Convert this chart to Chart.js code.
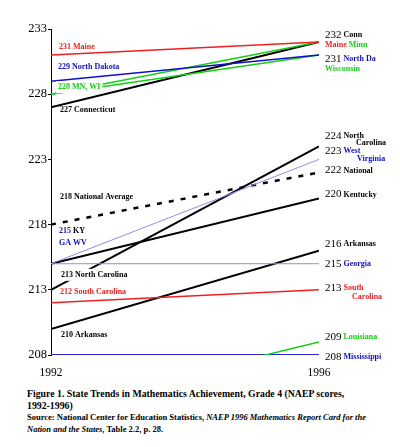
<!DOCTYPE html>
<html>
<head>
<meta charset="utf-8">
<script src="https://cdn.jsdelivr.net/npm/chart.js@4.4.0/dist/chart.umd.min.js"></script>
<style>
body { margin: 0; background: #fff; }
#wrap { position: relative; width: 400px; height: 380px; }
.caption { position: absolute; left: 27px; font-family: "Liberation Serif", "Times New Roman", serif; color: #000; font-weight: bold; white-space: nowrap; }
</style>
</head>
<body>
<div id="wrap"><canvas id="myChart"></canvas></div>
<div class="caption" style="top:388px;font-size:9.8px;line-height:12px;">Figure 1. State Trends in Mathematics Achievement, Grade 4 (NAEP scores,<br>1992-1996)</div>
<div class="caption" style="top:412px;font-size:8.5px;line-height:11.5px;">Source: National Center for Education Statistics, <i>NAEP 1996 Mathematics Report Card for the<br>Nation and the States</i>, Table 2.2, p. 28.</div>
<script>
// NAEP grade 4 math scores, 1992 and 1996
const years = [1992, 1996];
const yTicks = [208, 213, 218, 223, 228, 233];

const maine = [231, 232];
const northDakota = [229, 231];
const minnesota = [228, 232];
const wisconsin = [228, 231];
const connecticut = [227, 232];
const national = [218, 222];
const kentucky = [215, 220];
const westVirginia = [215, 223];
const georgia = [215, 215];
const northCarolina = [213, 224];
const southCarolina = [212, 213];
const arkansas = [210, 216];
const louisiana = [204, 209];
const mississippi = [208, 208];

const RED = '#f02020', BLUE = '#1010c8', GREEN = '#10d010', BLACK = '#000', LAV = '#8c8cf0';
const SERIF = '"Liberation Serif", "Times New Roman", serif';

const series = [
    { values: maine, color: RED, width: 1.5 },
    { values: northDakota, color: BLUE, width: 1.5 },
    { values: minnesota, color: GREEN, width: 1.5 },
    { values: wisconsin, color: GREEN, width: 1.5 },
    { values: connecticut, color: BLACK, width: 2 },
    { values: westVirginia, color: LAV, width: 1 },
    { values: georgia, color: LAV, width: 1 },
    { values: national, color: BLACK, width: 2.5, dash: [5, 7] },
    { values: kentucky, color: BLACK, width: 2 },
    { values: northCarolina, color: BLACK, width: 2 },
    { values: southCarolina, color: RED, width: 1.5 },
    { values: arkansas, color: BLACK, width: 2 },
    { values: louisiana, color: GREEN, width: 1.5 },
    { values: mississippi, color: '#2a2ad0', width: 2 },
];

// labels beside the 1992 end
const leftLabels = [
    { value: maine[0], dx: 8, dy: -8, parts: [[`${maine[0]} Maine`, RED]] },
    { value: northDakota[0], dx: 7, dy: -14, parts: [[`${northDakota[0]} North Dakota`, BLUE]] },
    { value: minnesota[0], dx: 7, dy: -7, mask: true, parts: [[`${minnesota[0]} MN, WI`, GREEN]] },
    { value: connecticut[0], dx: 9, dy: 3, parts: [[`${connecticut[0]} Connecticut`, BLACK]] },
    { value: national[0], dx: 9, dy: -28, parts: [[`${national[0]} National Average`, BLACK]] },
    { value: kentucky[0], dx: 8, dy: -33, parts: [[`${kentucky[0]} `, BLUE], ['KY', BLACK]] },
    { value: georgia[0], dx: 8, dy: -21, parts: [['GA WV', BLUE]] },
    { value: northCarolina[0], dx: 10, dy: -15, mask: true, parts: [[`${northCarolina[0]} North Carolina`, BLACK]] },
    { value: southCarolina[0], dx: 9, dy: -11, parts: [[`${southCarolina[0]} South Carolina`, RED]] },
    { value: arkansas[0], dx: 10, dy: 6, parts: [[`${arkansas[0]} Arkansas`, BLACK]] },
];

// labels beside the 1996 end; 'n' marks the score itself
const rightLabels = [
    { value: connecticut[1], dy: -7, parts: [[connecticut[1], 'n'], [' Conn', BLACK]] },
    { value: maine[1], dy: 3, parts: [['Maine ', RED], ['Minn', GREEN]] },
    { value: northDakota[1], dy: 4, parts: [[northDakota[1], 'n'], [' North Da', BLUE]] },
    { value: wisconsin[1], dy: 14, parts: [['Wisconsin', GREEN]] },
    { value: northCarolina[1], dy: -10, parts: [[northCarolina[1], 'n'], [' North', BLACK]] },
    { value: northCarolina[1], dy: -3, dx: 31, parts: [['Carolina', BLACK]] },
    { value: westVirginia[1], dy: -8, parts: [[westVirginia[1], 'n'], [' West', BLUE]] },
    { value: westVirginia[1], dy: 0, dx: 32, parts: [['Virginia', BLUE]] },
    { value: national[1], dy: -2, parts: [[national[1], 'n'], [' National', BLACK]] },
    { value: kentucky[1], dy: -4, parts: [[kentucky[1], 'n'], [' Kentucky', BLACK]] },
    { value: arkansas[1], dy: -7, parts: [[arkansas[1], 'n'], [' Arkansas', BLACK]] },
    { value: georgia[1], dy: 0, parts: [[georgia[1], 'n'], [' Georgia', BLUE]] },
    { value: southCarolina[1], dy: -2, parts: [[southCarolina[1], 'n'], [' South', RED]] },
    { value: southCarolina[1], dy: 7, dx: 27, parts: [['Carolina', RED]] },
    { value: louisiana[1], dy: -5, parts: [[louisiana[1], 'n'], [' Louisiana', GREEN]] },
    { value: mississippi[1], dy: 2, parts: [[mississippi[1], 'n'], [' Mississippi', BLUE]] },
];

const NAME_FONT = `bold 8px ${SERIF}`;
const NUM_FONT = `11px ${SERIF}`;

function drawParts(ctx, parts, x, y, mask) {
    let cx = x;
    if (mask) {
        let w = 0;
        parts.forEach(([t, c]) => {
            ctx.font = c === 'n' ? NUM_FONT : NAME_FONT;
            w += ctx.measureText(String(t)).width;
        });
        ctx.fillStyle = '#fff';
        ctx.fillRect(x - 2, y - 6, w + 4, 12);
    }
    parts.forEach(([t, c]) => {
        const s = String(t);
        ctx.font = c === 'n' ? NUM_FONT : NAME_FONT;
        ctx.fillStyle = c === 'n' ? BLACK : c;
        ctx.fillText(s, cx, y);
        cx += ctx.measureText(s).width;
    });
}

const stateLabels = {
    id: 'stateLabels',
    afterDatasetsDraw(chart) {
        const { ctx, scales: { x, y } } = chart;
        ctx.save();
        ctx.textBaseline = 'middle';
        ctx.textAlign = 'left';
        const x0 = x.getPixelForValue(years[0]);
        const x1 = x.getPixelForValue(years[1]);
        leftLabels.forEach(l => {
            drawParts(ctx, l.parts, x0 + l.dx, y.getPixelForValue(l.value) + l.dy, l.mask);
        });
        rightLabels.forEach(l => {
            drawParts(ctx, l.parts, x1 + 6 + (l.dx || 0), y.getPixelForValue(l.value) + l.dy, false);
        });
        ctx.restore();
    }
};

new Chart(document.getElementById('myChart'), {
    type: 'line',
    data: {
        datasets: series.map(s => ({
            data: years.map((yr, i) => ({ x: yr, y: s.values[i] })),
            borderColor: s.color,
            borderWidth: s.width,
            borderDash: s.dash || [],
            pointRadius: 0,
            fill: false,
            tension: 0,
        })),
    },
    options: {
        responsive: true,
        maintainAspectRatio: false,
        animation: false,
        layout: { padding: { top: 29, right: 81, left: 0, bottom: 0 } },
        plugins: {
            legend: { display: false },
            tooltip: { enabled: false },
        },
        scales: {
            x: {
                type: 'linear',
                min: years[0],
                max: years[1],
                afterBuildTicks: scale => { scale.ticks = years.map(v => ({ value: v })); },
                afterFit: scale => { scale.height = 25; },
                grid: { display: false },
                border: { display: false },
                ticks: {
                    padding: 3,
                    color: BLACK,
                    font: { family: SERIF, size: 11.5 },
                    callback: v => String(v),
                },
            },
            y: {
                min: yTicks[0],
                max: yTicks[yTicks.length - 1],
                afterBuildTicks: scale => { scale.ticks = yTicks.map(v => ({ value: v })); },
                afterFit: scale => { scale.width = 51; },
                grid: { drawOnChartArea: false, drawTicks: true, tickLength: 3, color: BLACK },
                border: { display: true, color: BLACK, width: 1 },
                ticks: {
                    padding: 1,
                    color: BLACK,
                    font: { family: SERIF, size: 12.5 },
                },
            },
        },
    },
    plugins: [stateLabels],
});
</script>
</body>
</html>
